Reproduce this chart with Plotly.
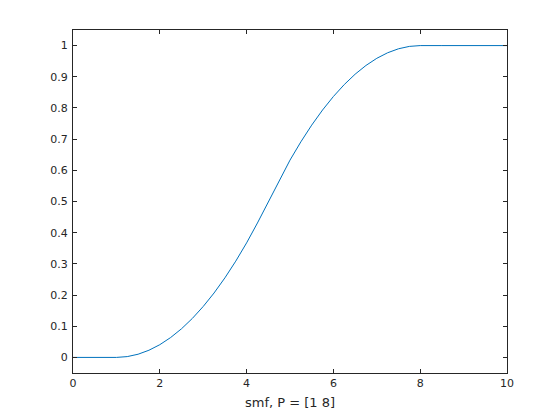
import plotly.graph_objects as go

x_vals = [0, 0.25, 0.5, 0.75, 1.0, 1.25, 1.5, 1.75, 2.0, 2.25, 2.5, 2.75, 3.0, 3.25, 3.5, 3.75,
          4.0, 4.25, 4.5, 4.75, 5.0, 5.25, 5.5, 5.75, 6.0, 6.25, 6.5, 6.75, 7.0, 7.25, 7.5, 7.75,
          8.0, 8.5, 9.0, 9.5, 10.0]
y_vals = [0, 0, 0, 0, 0, 0.0026, 0.0102, 0.0230, 0.0408, 0.0638, 0.0918, 0.125, 0.1633, 0.2066,
          0.2551, 0.3087, 0.3673, 0.4311, 0.5, 0.5689, 0.6327, 0.6913, 0.7449, 0.7934, 0.8367,
          0.875, 0.9082, 0.9362, 0.9592, 0.9770, 0.9898, 0.9974, 1.0, 1.0, 1.0, 1.0, 1.0]

x_ticks = [0, 2, 4, 6, 8, 10]
y_ticks = [0, 0.1, 0.2, 0.3, 0.4, 0.5, 0.6, 0.7, 0.8, 0.9, 1]
x_label = "smf, P = [1 8]"

fig = go.Figure(go.Scatter(x=x_vals, y=y_vals, mode="lines",
                           line=dict(color="#0072BD", width=1)))

axis_common = dict(showline=True, linecolor="#262626", linewidth=1, mirror="ticks",
                   ticks="inside", ticklen=4, tickcolor="#262626", showgrid=False,
                   zeroline=False, tickfont=dict(size=11, color="#262626"))

fig.update_layout(
    width=560, height=420,
    margin=dict(l=65, r=61, t=22, b=55),
    paper_bgcolor="white", plot_bgcolor="white",
    font=dict(family="DejaVu Sans", color="#262626"),
    showlegend=False,
    xaxis=dict(range=[0, 10], tickvals=x_ticks, ticktext=[str(v) for v in x_ticks],
               title=dict(text=x_label, font=dict(size=13), standoff=8), **axis_common),
    yaxis=dict(range=[-0.05, 1.05], tickvals=y_ticks, ticktext=[f"{v:g}" for v in y_ticks],
               ticklabelstandoff=2, **axis_common),
)

fig.write_html("out.html")
